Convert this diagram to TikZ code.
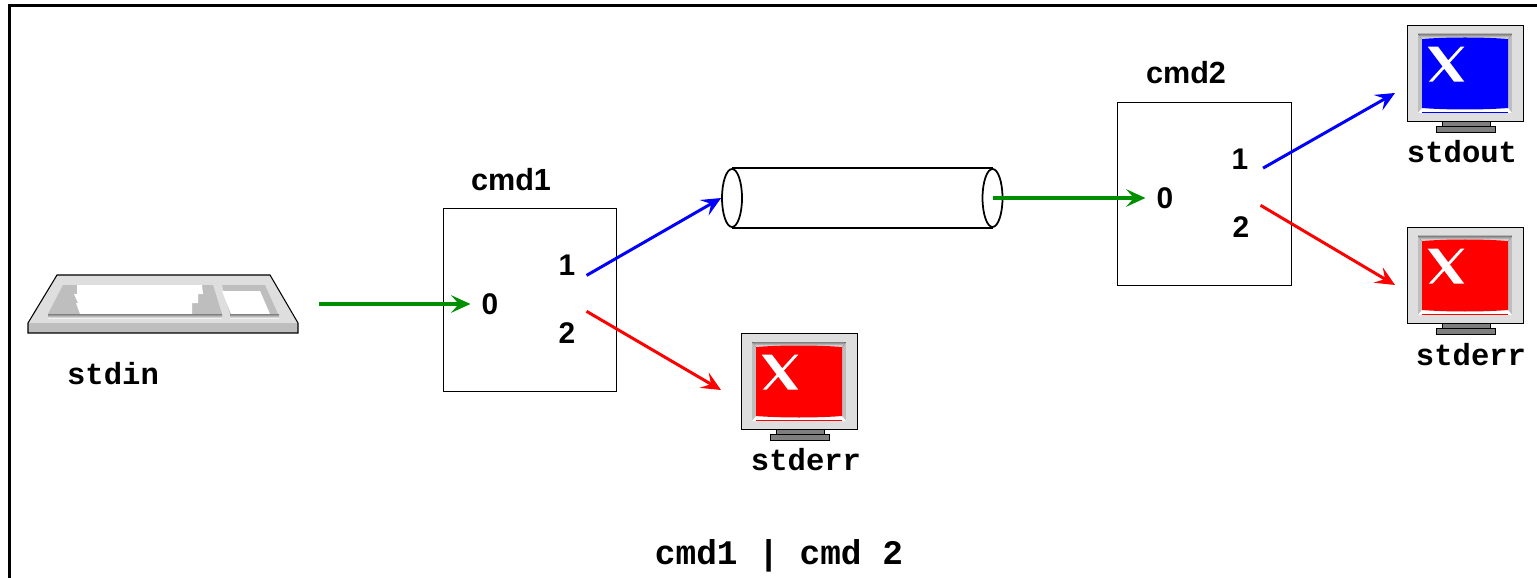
\documentclass[tikz,border=0pt]{standalone}
\usepackage{fontspec}
\setmainfont{Liberation Sans}
\setmonofont{Liberation Mono}
\usetikzlibrary{arrows.meta,shapes.geometric}
\definecolor{bezel}{HTML}{BEBEBE}
\definecolor{casing}{HTML}{DEDEDE}
\definecolor{shade}{HTML}{7F7F7F}
\definecolor{pipegreen}{HTML}{008F00}
\tikzset{
  flow/.style={line width=.85pt, -{Stealth[length=5.5pt,width=5pt,inset=2.2pt]}},
  greenflow/.style={flow, pipegreen, line width=1.1pt},
  cmdname/.style={font=\bfseries\fontsize{8.7}{10}\selectfont},
  portnum/.style={font=\bfseries\fontsize{8.5}{10}\selectfont, inner sep=3pt},
  stream/.style={font=\ttfamily\bfseries\fontsize{8.7}{10}\selectfont, inner sep=0pt},
  pipeend/.style={draw, ellipse, line width=.5pt, minimum width=.20cm, minimum height=.58cm, inner sep=0pt},
  cmdbox/.style={draw, line width=.25pt, minimum height=1.83cm, inner sep=0pt},
  pics/monitor/.style={code={
    \draw[fill=casing, line width=.25pt] (0, 0) rectangle (1.16, -.96);
    \fill[bezel] (.11, -.09) rectangle (1.05, -.88);
    \fill[shade] (.11, -.09) -- (1.05, -.09) -- (1.01, -.14) -- (.15, -.14) -- cycle;
    \fill[white] (.11, -.88) -- (1.05, -.88) -- (1.01, -.83) -- (.15, -.83) -- cycle;
    \fill[#1] (.15, -.14) .. controls (.4, -.12) and (.76, -.12) .. (1.01, -.14)
      -- (1.01, -.83) .. controls (.76, -.85) and (.4, -.85) .. (.15, -.83) -- cycle;
    \draw[#1, line width=.3pt] (.15, -.875) -- (1.01, -.875);
    % the X on the screen
    \fill[white] (.207, -.217) -- (.31, -.217) -- (.573, -.567) -- (.47, -.567) -- cycle;
    \fill[white] (.535, -.217) -- (.573, -.217) -- (.255, -.567) -- (.217, -.567) -- cycle;
    % foot
    \draw[fill=shade, line width=.2pt] (.35, -.96) rectangle (.83, -1.02);
    \draw[fill=shade, line width=.2pt] (.29, -1.01) rectangle (.88, -1.07);
  }}
}
\begin{document}
\begin{tikzpicture}
  \useasboundingbox (0, 0) rectangle (15.37, -5.78);
  \draw[line width=.8pt] (.095, -5.78) -- (.095, -.053) -- (15.37, -.053);

  % keyboard
  \fill[casing] (.57, -2.75) -- (2.70, -2.75) -- (2.98, -3.23) -- (.28, -3.23) -- cycle;
  \fill[bezel] (.28, -3.23) rectangle (2.98, -3.33);
  \draw[line width=.3pt] (.57, -2.75) -- (2.70, -2.75) -- (2.98, -3.23) -- (2.98, -3.33) -- (.28, -3.33) -- (.28, -3.23) -- cycle;
  \fill[bezel] (.63, -2.85) -- (2.13, -2.85) -- (2.22, -3.14) -- (.48, -3.14) -- cycle;
  \fill[white] (.77, -2.85) -- (2.02, -2.85) -- (2.03, -2.94) -- (1.98, -2.94) -- (1.98, -3.03)
    -- (1.92, -3.03) -- (1.92, -3.14) -- (.80, -3.14) -- (.76, -3.03) -- (.78, -3.03) -- (.74, -2.94) -- (.77, -2.94) -- cycle;
  \fill[shade] (.48, -3.14) rectangle (2.22, -3.185);
  \fill[bezel] (2.22, -2.85) -- (2.65, -2.85) -- (2.78, -3.14) -- (2.30, -3.14) -- cycle;
  \fill[white] (2.22, -2.91) -- (2.60, -2.91) -- (2.70, -3.14) -- (2.31, -3.14) -- cycle;
  \fill[shade] (2.30, -3.14) rectangle (2.79, -3.185);
  \node[stream] (stdin) at (1.13, -3.74) {stdin};
  \coordinate (kbdout) at (3.19, -3.04);

  % cmd1
  \node[cmdbox, minimum width=1.73cm] (cmdA) at (5.295, -2.995) {};
  \node[cmdname] (cmdAname) at (5.11, -1.80) {cmd1};
  \node[portnum] (a0) at (4.90, -3.04) {0};
  \node[portnum] (a1) at (5.67, -2.65) {1};
  \node[portnum] (a2) at (5.67, -3.33) {2};

  % pipe
  \node[pipeend] (pipein) at (7.32, -1.98) {};
  \node[pipeend] (pipeout) at (9.925, -1.98) {};
  \draw[line width=.5pt] (pipein.north) -- (pipeout.north);
  \draw[line width=.5pt] (pipein.south) -- (pipeout.south);

  % cmd2
  \node[cmdbox, minimum width=1.74cm] (cmdB) at (12.04, -1.935) {};
  \node[cmdname] (cmdBname) at (11.86, -.73) {cmd2};
  \node[portnum] (b0) at (11.65, -1.98) {0};
  \node[portnum] (b1) at (12.40, -1.59) {1};
  \node[portnum] (b2) at (12.41, -2.27) {2};

  % screens
  \pic at (7.41, -3.33) {monitor=red};
  \pic at (14.07, -.25) {monitor=blue};
  \pic at (14.07, -2.27) {monitor=red};
  \node[stream] (errA) at (8.06, -4.60) {stderr};
  \node[stream] (out) at (14.62, -1.52) {stdout};
  \node[stream] (errB) at (14.71, -3.55) {stderr};
  \coordinate (errAin) at (7.21, -3.90);
  \coordinate (outin) at (13.95, -.93);
  \coordinate (errBin) at (13.95, -2.85);

  % connections
  \draw[greenflow] (kbdout) -- (a0.west);
  \draw[flow, blue] (a1.-28) -- (pipein.west);
  \draw[flow, red] (a2.north east) -- (errAin);
  \draw[greenflow] (pipeout.center) -- (b0.west);
  \draw[flow, blue] ([xshift=1pt]b1.-25) -- (outin);
  \draw[flow, red] (b2.north east) -- (errBin);

  \node[stream, font=\ttfamily\bfseries\fontsize{9.8}{11}\selectfont] (title) at (7.79, -5.56) {cmd1 | cmd 2};
\end{tikzpicture}
\end{document}
